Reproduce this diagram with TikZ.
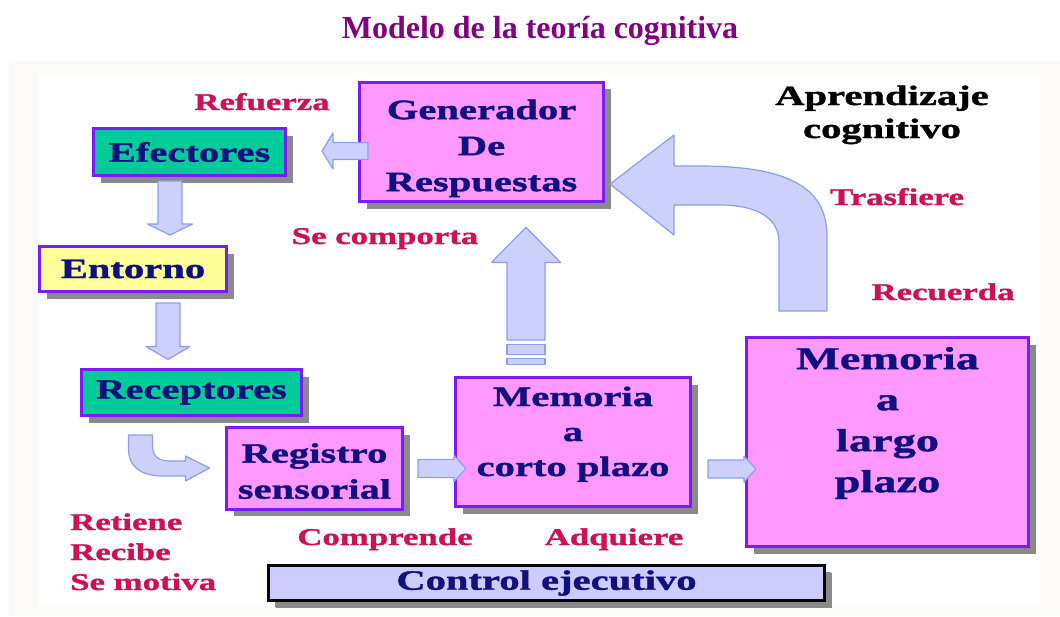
\documentclass[tikz,border=0pt]{standalone}
\usepackage{fontspec}
\setmainfont{Liberation Serif}
\newfontfamily\widefont{Liberation Serif}[FakeStretch=1.45, BoldFeatures={FakeBold=1.3}]
\usepackage{tikz}
\usetikzlibrary{positioning, calc, shadows}
\definecolor{boxline}{HTML}{7A1CF5}
\definecolor{boxtext}{HTML}{101080}
\definecolor{tealfill}{HTML}{00CC99}
\definecolor{yellowfill}{HTML}{FFFF99}
\definecolor{pinkfill}{HTML}{FF99FF}
\definecolor{lavender}{HTML}{CCCCFF}
\definecolor{arrowfill}{HTML}{CDD0FB}
\definecolor{arrowline}{HTML}{8C9EF0}
\definecolor{tagred}{HTML}{CC1155}
\definecolor{titlepurple}{HTML}{800080}
\definecolor{shadowgray}{HTML}{8A8A8A}
\definecolor{panel}{HTML}{FBFAF7}
\tikzset{
	box/.style={
			rectangle, draw=boxline, line width=3pt, text=boxtext, inner sep=0pt,
			font=\widefont\bfseries\fontsize{28}{36}\selectfont,
			drop shadow={shadow xshift=7pt, shadow yshift=-7pt, fill=shadowgray, opacity=1}},
	tag/.style={text=tagred, inner sep=0pt, font=\widefont\bfseries\fontsize{24}{30}\selectfont},
	arrowbody/.style={fill=arrowfill, draw=arrowline, line width=1.2pt, line join=round},
		}
% tail, tip, half shaft, half head, head length
\newcommand\fatarrow[5]{%
	\coordinate (fa-base) at ($(#2)!#5!(#1)$);
	\draw[arrowbody] ($(#1)!#3!90:(#2)$) -- ($(fa-base)!#3!-90:(#1)$) -- ($(fa-base)!#4!-90:(#1)$)
		-- (#2) -- ($(fa-base)!#4!90:(#1)$) -- ($(fa-base)!#3!90:(#1)$) -- ($(#1)!#3!-90:(#2)$) -- cycle;
}
\begin{document}
\begin{tikzpicture}[x=1pt, y=-1pt]
	\useasboundingbox (0,0) rectangle (1060,616);
	\fill[panel] (9,61) rectangle (1060,616);
	\fill[white] (38,73) rectangle (1040,607);

	\node[anchor=base, text=titlepurple, font=\bfseries\fontsize{32}{36}\selectfont] (title) at (540,38)
		{Modelo de la teoría cognitiva};

	\node[box, fill=tealfill, minimum width=192pt, minimum height=47pt] (efect) at (189.5,152) {Efectores};
	\node[box, fill=yellowfill, minimum width=187pt, minimum height=45pt] (entorno) at (133,269) {Entorno};
	\node[box, fill=tealfill, minimum width=220pt, minimum height=46pt] (recep) at (191.5,392.5) {Receptores};
	\node[box, fill=pinkfill, minimum width=176pt, minimum height=74pt] (registro) at (314.5,468.5)
		{\begin{tabular}{c}
			\rule{0pt}{35pt}Registro \\
			sensorial
		\end{tabular}};
	\node[box, fill=pinkfill, minimum width=235pt, minimum height=129pt, font=\widefont\bfseries\fontsize{28}{35}\selectfont] (corto) at (573,442)
		{\begin{tabular}{c}
			Memoria \\
			a \\
			corto plazo \\[16pt]
		\end{tabular}};
	\node[box, fill=pinkfill, minimum width=282pt, minimum height=209pt, font=\widefont\bfseries\fontsize{32}{41}\selectfont] (largo) at (887.5,442)
		{\begin{tabular}{c}
			Memoria \\
			a \\
			largo \\
			plazo \\[39pt]
		\end{tabular}};
	\node[box, fill=pinkfill, minimum width=244pt, minimum height=107pt] (gener) at (481.5,142)
		{\begin{tabular}{c}
			\rule{0pt}{37pt}Generador \\
			De \\
			Respuestas
		\end{tabular}};
	\node[box, draw=black, line width=2.5pt, fill=lavender, minimum width=556pt, minimum height=35pt,
		drop shadow={shadow xshift=6pt, shadow yshift=-6pt, fill=shadowgray, opacity=1}] (control) at (546.5,583)
		{Control ejecutivo};

	% straight block arrows
	\coordinate (a1t) at ($(gener.west)+(10,9)$);
	\coordinate (a1h) at ($(gener.west)+(-36,9)$);
	\fatarrow{a1t}{a1h}{8.5pt}{18pt}{11pt}
	\coordinate (a2t) at ($(efect.south)+(-19.5,4)$);
	\coordinate (a2h) at ($(entorno.north)+(37,-10)$);
	\fatarrow{a2t}{a2h}{12pt}{22.5pt}{11pt}
	\coordinate (a3t) at ($(entorno.south)+(35,10)$);
	\coordinate (a3h) at ($(recep.north)+(-23.5,-8.5)$);
	\fatarrow{a3t}{a3h}{12pt}{22pt}{13pt}
	\coordinate (a5t) at ($(registro.east)+(14,0)$);
	\coordinate (a5h) at ($(corto.west |- registro.east)+(12,0)$);
	\fatarrow{a5t}{a5h}{9pt}{13pt}{12pt}
	\coordinate (a6t) at ($(corto.east)+(16,27)$);
	\coordinate (a6h) at ($(largo.west)+(11,27)$);
	\fatarrow{a6t}{a6h}{9pt}{13pt}{12pt}
	\coordinate (a7t) at ($(corto.north)+(-47,-36)$);
	\coordinate (a7h) at ($(gener.south)+(44.5,24)$);
	\fatarrow{a7t}{a7h}{19pt}{34.5pt}{35pt}
	\draw[arrowbody] ($(a7t)+(-19,4.5)$) rectangle ($(a7t)+(19,14.5)$);
	\draw[arrowbody] ($(a7t)+(-19,18.5)$) rectangle ($(a7t)+(19,24.5)$);

	% bent arrow into the sensory register
	\begin{scope}[shift={($(recep.south)+(-51,18)$)}]
		\draw[arrowbody] (-12,0) -- (-12,14) .. controls (-12,34) and (4,41) .. (22,41) -- (45,41) -- (45,46)
			-- (69,33) -- (45,21) -- (45,26) -- (30,26) .. controls (18,26) and (12,22) .. (12,10) -- (12,0) -- cycle;
	\end{scope}
	% bent arrow back to the response generator
	\begin{scope}[shift={($(largo.north)+(-84.5,-25)$)}]
		\draw[arrowbody] (24,0) -- (24,-74) .. controls (24,-118) and (-5,-145) .. (-103,-145) -- (-129,-145)
			-- (-129,-176) -- (-193,-127) -- (-129,-76) -- (-129,-106) -- (-83,-106)
			.. controls (-48,-106) and (-24,-94) .. (-24,-69) -- (-24,0) -- cycle;
	\end{scope}

	\node[tag, anchor=base] (refuerza) at (262,110) {Refuerza};
	\node[tag, anchor=base] (comporta) at (385,244) {Se comporta};
	\node[tag, anchor=base] (trasfiere) at (897,205) {Trasfiere};
	\node[tag, anchor=base] (recuerda) at (943,300) {Recuerda};
	\node[tag, anchor=base] (comprende) at (385,545) {Comprende};
	\node[tag, anchor=base] (adquiere) at (614,545) {Adquiere};
	\node[tag, anchor=base west] (retiene) at (70,530)
		{\begin{tabular}[t]{@{}l@{}}
			Retiene \\
			Recibe \\
			Se motiva
		\end{tabular}};
	\node[tag, text=black, anchor=base, font=\widefont\bfseries\fontsize{28}{33}\selectfont] (aprend) at (882,105)
		{\begin{tabular}[t]{@{}c@{}}
			Aprendizaje \\
			cognitivo
		\end{tabular}};
\end{tikzpicture}
\end{document}
